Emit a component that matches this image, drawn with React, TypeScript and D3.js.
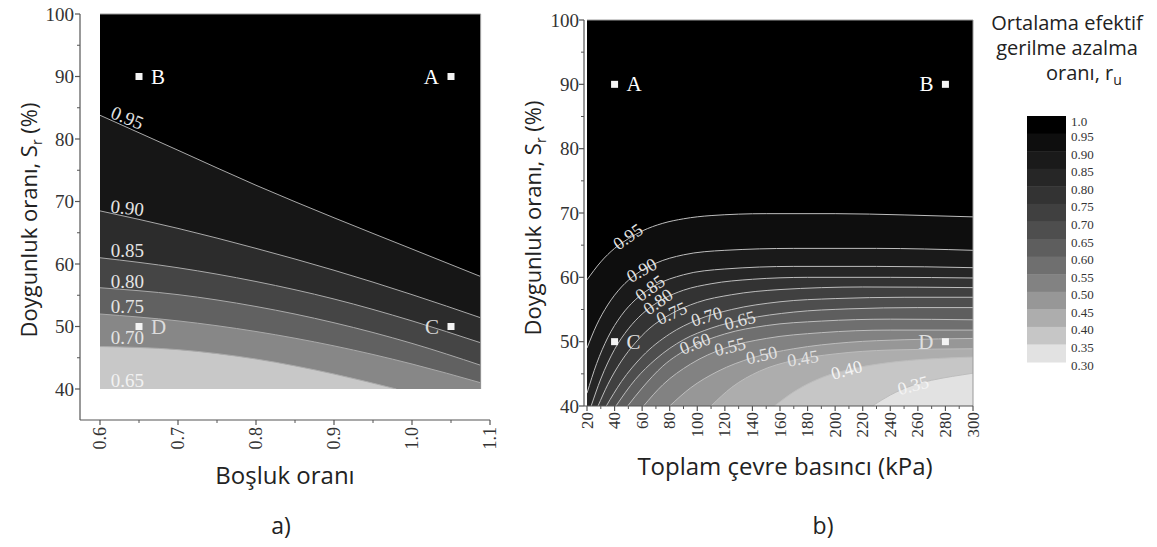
import React from "react";
import * as d3 from "d3";

type Pt = [number, number];

// ---------- Panel (a): void ratio vs saturation ----------
const aC095: Pt[] = [[0.6, 83.8], [0.7, 78.2], [0.8, 72.6], [0.9, 67.4], [1.0, 62.4], [1.088, 58.0]];
const aC090: Pt[] = [[0.6, 68.5], [0.7, 65.7], [0.8, 62.5], [0.9, 59.0], [1.0, 55.1], [1.088, 51.4]];
const aC085: Pt[] = [[0.6, 61.0], [0.7, 59.4], [0.8, 57.2], [0.9, 54.4], [1.0, 50.9], [1.088, 47.4]];
const aC080: Pt[] = [[0.6, 56.2], [0.7, 55.1], [0.8, 53.2], [0.9, 50.6], [1.0, 47.3], [1.088, 43.8]];
const aC075: Pt[] = [[0.6, 52.0], [0.7, 50.9], [0.8, 49.2], [0.9, 46.9], [1.0, 44.0], [1.088, 41.0]];
const aC070: Pt[] = [[0.6, 46.8], [0.7, 46.3], [0.8, 44.8], [0.9, 42.4], [0.98, 40.0]];
const aContours = [aC095, aC090, aC085, aC080, aC075, aC070];
const aBandColors = ["#000000", "#161616", "#2c2c2c", "#454545", "#616161", "#878787", "#c8c8c8"];
const aLabelText = ["0.95", "0.90", "0.85", "0.80", "0.75", "0.70", "0.65"];
const aLabelX = [0.635, 0.635, 0.635, 0.635, 0.635, 0.635, 0.635];
const aLabelY = [83.4, 69.0, 62.2, 57.2, 53.2, 48.2, 41.4];
const aLabelRot = [22, 6, 0, 0, 0, 0, 0];
const aDataX: [number, number] = [0.6, 1.088];
const aDataY: [number, number] = [40, 100];
const aXTicks = [0.6, 0.7, 0.8, 0.9, 1.0, 1.1];
const aXTickText = ["0.6", "0.7", "0.8", "0.9", "1.0", "1.1"];
const aXMinor = [0.65, 0.75, 0.85, 0.95, 1.05];
const aYTicks = [40, 50, 60, 70, 80, 90, 100];
const aYMinor = [45, 55, 65, 75, 85, 95];
const aMarkName = ["A", "B", "C", "D"];
const aMarkX = [1.05, 0.65, 1.05, 0.65];
const aMarkY = [90, 90, 50, 50];
const aMarkSide = ["l", "r", "l", "r"];

// ---------- Panel (b): confining pressure vs saturation ----------
const bC095: Pt[] = [[20, 59.6], [30, 62.4], [40, 64.5], [50, 66.0], [60, 67.2], [75, 68.4], [90, 69.1], [110, 69.6], [150, 69.9], [200, 69.9], [250, 69.7], [300, 69.4]];
const bC090: Pt[] = [[20, 49.0], [27, 52.6], [35, 55.7], [45, 58.5], [55, 60.4], [70, 62.2], [90, 63.5], [120, 64.2], [170, 64.5], [230, 64.5], [300, 64.2]];
const bC085: Pt[] = [[20, 42.0], [27, 46.6], [35, 50.6], [45, 54.1], [55, 56.5], [70, 58.8], [90, 60.4], [120, 61.3], [170, 61.7], [230, 61.7], [300, 61.5]];
const bC080: Pt[] = [[23, 40], [30, 44.2], [40, 48.8], [50, 52.0], [60, 54.3], [75, 56.6], [90, 58.0], [110, 59.0], [140, 59.7], [180, 60.0], [240, 60.0], [300, 59.9]];
const bC075: Pt[] = [[28, 40], [35, 43.3], [45, 47.0], [55, 49.8], [65, 52.0], [80, 54.2], [100, 56.1], [125, 57.3], [160, 58.1], [220, 58.5], [300, 58.4]];
const bC070: Pt[] = [[34, 40], [45, 43.8], [60, 47.7], [80, 51.2], [100, 53.4], [125, 55.0], [160, 56.2], [200, 56.7], [250, 56.9], [300, 56.9]];
const bC065: Pt[] = [[41, 40], [55, 44.1], [70, 47.3], [90, 50.3], [110, 52.1], [135, 53.5], [170, 54.6], [210, 55.1], [260, 55.3], [300, 55.3]];
const bC060: Pt[] = [[49.5, 40], [60, 42.8], [75, 46.2], [95, 49.1], [120, 51.2], [150, 52.5], [190, 53.2], [240, 53.5], [300, 53.4]];
const bC055: Pt[] = [[61, 40], [75, 43.3], [95, 46.5], [120, 49.0], [150, 50.5], [190, 51.4], [240, 51.8], [300, 51.8]];
const bC050: Pt[] = [[80, 40], [95, 42.8], [115, 45.4], [140, 47.5], [170, 48.9], [210, 49.9], [250, 50.3], [300, 50.5]];
const bC045: Pt[] = [[110, 40], [125, 42.9], [145, 45.4], [170, 47.1], [200, 48.1], [240, 48.7], [300, 48.9]];
const bC040: Pt[] = [[156, 40], [170, 42.2], [190, 44.4], [215, 45.9], [245, 46.9], [275, 47.4], [300, 47.6]];
const bC035: Pt[] = [[227, 40], [240, 41.7], [256, 43.2], [270, 44.0], [285, 44.6], [300, 45.1]];
const bContours = [bC095, bC090, bC085, bC080, bC075, bC070, bC065, bC060, bC055, bC050, bC045, bC040, bC035];
const bLevelText = ["0.95", "0.90", "0.85", "0.80", "0.75", "0.70", "0.65", "0.60", "0.55", "0.50", "0.45", "0.40", "0.35"];
const bLabelX = [49.7, 59.7, 65.7, 71.5, 81.4, 106.8, 131, 98.3, 123.7, 146.7, 176.6, 208.3, 256.6];
const bLabelY = [66.3, 61.1, 58.3, 56.2, 54.4, 53.9, 53.3, 49.7, 49.2, 47.9, 47.4, 45.6, 43.2];
const bBandColors = ["#000000", "#0e0e0e", "#1a1a1a", "#262626", "#333333", "#404040", "#4e4e4e", "#5e5e5e", "#6f6f6f", "#828282", "#979797", "#adadad", "#c6c6c6", "#e2e2e2"];
const bDataX: [number, number] = [20, 300];
const bDataY: [number, number] = [40, 100];
const bXTicks = [20, 40, 60, 80, 100, 120, 140, 160, 180, 200, 220, 240, 260, 280, 300];
const bXMinor = [30, 50, 70, 90, 110, 130, 150, 170, 190, 210, 230, 250, 270, 290];
const bYTicks = [40, 50, 60, 70, 80, 90, 100];
const bYMinor = [45, 55, 65, 75, 85, 95];
const bMarkName = ["A", "B", "C", "D"];
const bMarkX = [40, 280, 40, 280];
const bMarkY = [90, 90, 50, 50];
const bMarkSide = ["r", "l", "r", "l"];

// ---------- Legend ----------
const legendBounds = [1.0, 0.95, 0.9, 0.85, 0.8, 0.75, 0.7, 0.65, 0.6, 0.55, 0.5, 0.45, 0.4, 0.35, 0.3];
const legendText = ["1.0", "0.95", "0.90", "0.85", "0.80", "0.75", "0.70", "0.65", "0.60", "0.55", "0.50", "0.45", "0.40", "0.35", "0.30"];

const SERIF = "'Liberation Serif', 'Times New Roman', serif";
const SANS = "'Open Sans', 'Noto Sans', sans-serif";
const AXIS = "#555";

function angleAt(pts: Pt[], x: number, sx: (v: number) => number, sy: (v: number) => number) {
  let i = pts.findIndex((p) => p[0] >= x);
  if (i <= 0) i = 1;
  const p0 = pts[i - 1];
  const p1 = pts[i];
  return (Math.atan2(sy(p1[1]) - sy(p0[1]), sx(p1[0]) - sx(p0[0])) * 180) / Math.PI;
}

export default function App() {
  // scales panel a
  const ax = d3.scaleLinear().domain([0.6, 1.1]).range([100, 490]);
  const ay = d3.scaleLinear().domain([40, 100]).range([389, 14]);
  const aAxisX = 80;
  const aAxisY = 420;
  // scales panel b
  const bx = d3.scaleLinear().domain([20, 300]).range([587, 973]);
  const by = d3.scaleLinear().domain([40, 100]).range([406, 20]);
  const bAxisX = 584;
  const bAxisY = 406;
  // legend scale
  const ly = d3.scaleLinear().domain([1.0, 0.3]).range([116, 362]);

  const aArea = d3.area<Pt>().x((d) => ax(d[0])).y0(ay(40)).y1((d) => ay(d[1])).curve(d3.curveMonotoneX);
  const aLine = d3.line<Pt>().x((d) => ax(d[0])).y((d) => ay(d[1])).curve(d3.curveMonotoneX);
  const bArea = d3.area<Pt>().x((d) => bx(d[0])).y0(by(40)).y1((d) => by(d[1])).curve(d3.curveMonotoneX);
  const bLine = d3.line<Pt>().x((d) => bx(d[0])).y((d) => by(d[1])).curve(d3.curveMonotoneX);

  const ax0 = ax(aDataX[0]), ax1 = ax(aDataX[1]), ay0 = ay(aDataY[1]), ay1 = ay(aDataY[0]);
  const bx0 = bx(bDataX[0]), bx1 = bx(bDataX[1]), by0 = by(bDataY[1]), by1 = by(bDataY[0]);

  const mark = (name: string, px: number, py: number, side: string, color: string, key: string) => (
    <g key={key}>
      <rect x={px - 3.5} y={py - 3.5} width={7} height={7} fill="#f4f4f4" />
      <text
        x={side === "r" ? px + 12 : px - 12}
        y={py + 7}
        textAnchor={side === "r" ? "start" : "end"}
        fontFamily={SERIF}
        fontSize={21}
        fill={color}
      >
        {name}
      </text>
    </g>
  );

  return (
    <svg width={1157} height={547} style={{ position: "absolute", left: 0, top: 0, background: "#fff" }}>
      <defs>
        <clipPath id="clipA">
          <rect x={ax0} y={ay0} width={ax1 - ax0} height={ay1 - ay0} />
        </clipPath>
        <clipPath id="clipB">
          <rect x={bx0} y={by0} width={bx1 - bx0} height={by1 - by0} />
        </clipPath>
      </defs>

      {/* ================= Panel a ================= */}
      <g clipPath="url(#clipA)">
        <rect x={ax0} y={ay0} width={ax1 - ax0} height={ay1 - ay0} fill={aBandColors[0]} />
        {aContours.map((c, i) => (
          <path key={"aa" + i} d={aArea(c) || ""} fill={aBandColors[i + 1]} />
        ))}
        {aContours.map((c, i) => (
          <path key={"al" + i} d={aLine(c) || ""} fill="none" stroke="#a9a9a9" strokeWidth={1} />
        ))}
      </g>
      <path d={`M${ax0},${ay0}H${ax1}V${ay1}`} fill="none" stroke="#9a9a9a" strokeWidth={1} />
      {aLabelText.map((t, i) => (
        <text
          key={"alab" + i}
          transform={`translate(${ax(aLabelX[i])},${ay(aLabelY[i])}) rotate(${aLabelRot[i]})`}
          textAnchor="middle"
          dominantBaseline="central"
          fontFamily={SERIF}
          fontSize={19}
          fill={i === 6 ? "#f2f2f2" : "#e4e4e4"}
        >
          {t}
        </text>
      ))}
      {aMarkName.map((n, i) =>
        mark(n, ax(aMarkX[i]), ay(aMarkY[i]), aMarkSide[i], aMarkY[i] > 70 ? "#ffffff" : "#dcdcdc", "am" + i)
      )}

      {/* axes a */}
      <line x1={aAxisX} y1={ay(100)} x2={aAxisX} y2={aAxisY} stroke={AXIS} strokeWidth={1.2} />
      <line x1={aAxisX} y1={aAxisY} x2={ax(1.1)} y2={aAxisY} stroke={AXIS} strokeWidth={1.2} />
      {aYTicks.map((v) => (
        <g key={"ayt" + v}>
          <line x1={aAxisX - 5} x2={aAxisX} y1={ay(v)} y2={ay(v)} stroke={AXIS} strokeWidth={1.2} />
          <text x={aAxisX - 6} y={ay(v)} textAnchor="end" dominantBaseline="central" fontFamily={SERIF} fontSize={19} fill="#333">
            {v}
          </text>
        </g>
      ))}
      {aYMinor.map((v) => (
        <line key={"aym" + v} x1={aAxisX - 3} x2={aAxisX} y1={ay(v)} y2={ay(v)} stroke={AXIS} strokeWidth={1} />
      ))}
      {aXTicks.map((v, i) => (
        <g key={"axt" + v}>
          <line x1={ax(v)} x2={ax(v)} y1={aAxisY} y2={aAxisY + 5} stroke={AXIS} strokeWidth={1.2} />
          <text
            transform={`translate(${ax(v)},${aAxisY + 7}) rotate(-90)`}
            textAnchor="end"
            dominantBaseline="central"
            fontFamily={SERIF}
            fontSize={18}
            fill="#333"
          >
            {aXTickText[i]}
          </text>
        </g>
      ))}
      {aXMinor.map((v) => (
        <line key={"axm" + v} x1={ax(v)} x2={ax(v)} y1={aAxisY} y2={aAxisY + 3} stroke={AXIS} strokeWidth={1} />
      ))}
      <text transform="translate(37,220) rotate(-90)" textAnchor="middle" fontFamily={SANS} fontSize={22} fill="#222">
        Doygunluk oranı, S<tspan fontSize={14} dy={5}>r</tspan>
        <tspan dy={-5}> (%)</tspan>
      </text>
      <text x={285} y={484} textAnchor="middle" fontFamily={SANS} fontSize={24} fill="#222">
        Boşluk oranı
      </text>
      <text x={281} y={534} textAnchor="middle" fontFamily={SANS} fontSize={23} fill="#222">
        a)
      </text>

      {/* ================= Panel b ================= */}
      <g clipPath="url(#clipB)">
        <rect x={bx0} y={by0} width={bx1 - bx0} height={by1 - by0} fill={bBandColors[0]} />
        {bContours.map((c, i) => (
          <path key={"ba" + i} d={bArea(c) || ""} fill={bBandColors[i + 1]} />
        ))}
        {bContours.map((c, i) => (
          <path key={"bl" + i} d={bLine(c) || ""} fill="none" stroke="#bdbdbd" strokeWidth={1} />
        ))}
      </g>
      <path d={`M${bx0},${by0}H${bx1}V${by1}`} fill="none" stroke="#9a9a9a" strokeWidth={1} />
      {bLevelText.map((t, i) => (
        <text
          key={"blab" + i}
          transform={`translate(${bx(bLabelX[i])},${by(bLabelY[i])}) rotate(${angleAt(bContours[i], bLabelX[i], bx, by)})`}
          textAnchor="middle"
          dominantBaseline="central"
          fontFamily={SERIF}
          fontSize={18}
          fill={i >= 11 ? "#f4f4f4" : "#e2e2e2"}
        >
          {t}
        </text>
      ))}
      {bMarkName.map((n, i) =>
        mark(n, bx(bMarkX[i]), by(bMarkY[i]), bMarkSide[i], bMarkY[i] > 70 ? "#ffffff" : "#e0e0e0", "bm" + i)
      )}

      {/* axes b */}
      <line x1={bAxisX} y1={by(100)} x2={bAxisX} y2={bAxisY} stroke={AXIS} strokeWidth={1.2} />
      <line x1={bAxisX} y1={bAxisY} x2={bx(300)} y2={bAxisY} stroke={AXIS} strokeWidth={1.2} />
      {bYTicks.map((v) => (
        <g key={"byt" + v}>
          <line x1={bAxisX - 5} x2={bAxisX} y1={by(v)} y2={by(v)} stroke={AXIS} strokeWidth={1.2} />
          <text x={bAxisX - 5} y={by(v)} textAnchor="end" dominantBaseline="central" fontFamily={SERIF} fontSize={19} fill="#333">
            {v}
          </text>
        </g>
      ))}
      {bYMinor.map((v) => (
        <line key={"bym" + v} x1={bAxisX - 3} x2={bAxisX} y1={by(v)} y2={by(v)} stroke={AXIS} strokeWidth={1} />
      ))}
      {bXTicks.map((v) => (
        <g key={"bxt" + v}>
          <line x1={bx(v)} x2={bx(v)} y1={bAxisY} y2={bAxisY + 5} stroke={AXIS} strokeWidth={1.2} />
          <text
            transform={`translate(${bx(v)},${bAxisY + 6}) rotate(-90)`}
            textAnchor="end"
            dominantBaseline="central"
            fontFamily={SERIF}
            fontSize={17}
            fill="#333"
          >
            {v}
          </text>
        </g>
      ))}
      {bXMinor.map((v) => (
        <line key={"bxm" + v} x1={bx(v)} x2={bx(v)} y1={bAxisY} y2={bAxisY + 3} stroke={AXIS} strokeWidth={1} />
      ))}
      <text transform="translate(541,218) rotate(-90)" textAnchor="middle" fontFamily={SANS} fontSize={22} fill="#222">
        Doygunluk oranı, S<tspan fontSize={14} dy={5}>r</tspan>
        <tspan dy={-5}> (%)</tspan>
      </text>
      <text x={785} y={475} textAnchor="middle" fontFamily={SANS} fontSize={24} fill="#222">
        Toplam çevre basıncı (kPa)
      </text>
      <text x={823} y={534} textAnchor="middle" fontFamily={SANS} fontSize={23} fill="#222">
        b)
      </text>

      {/* ================= Legend ================= */}
      <text x={1067} y={30} textAnchor="middle" fontFamily={SANS} fontSize={20} fill="#222">
        Ortalama efektif
      </text>
      <text x={1067} y={55} textAnchor="middle" fontFamily={SANS} fontSize={20} fill="#222">
        gerilme azalma
      </text>
      <text x={1046} y={80} textAnchor="start" fontFamily={SANS} fontSize={20} fill="#222">
        oranı, r<tspan fontSize={14} dy={5}>u</tspan>
      </text>
      {legendBounds.slice(0, -1).map((v, i) => (
        <rect
          key={"lg" + i}
          x={1027}
          y={ly(v)}
          width={39}
          height={ly(legendBounds[i + 1]) - ly(v) + 0.5}
          fill={bBandColors[i]}
        />
      ))}
      {legendText.map((t, i) => (
        <text
          key={"lt" + i}
          x={1071}
          y={ly(legendBounds[i]) + (i === 0 ? 5 : 3)}
          dominantBaseline="central"
          fontFamily={SERIF}
          fontSize={13}
          fill="#333"
        >
          {t}
        </text>
      ))}
    </svg>
  );
}
